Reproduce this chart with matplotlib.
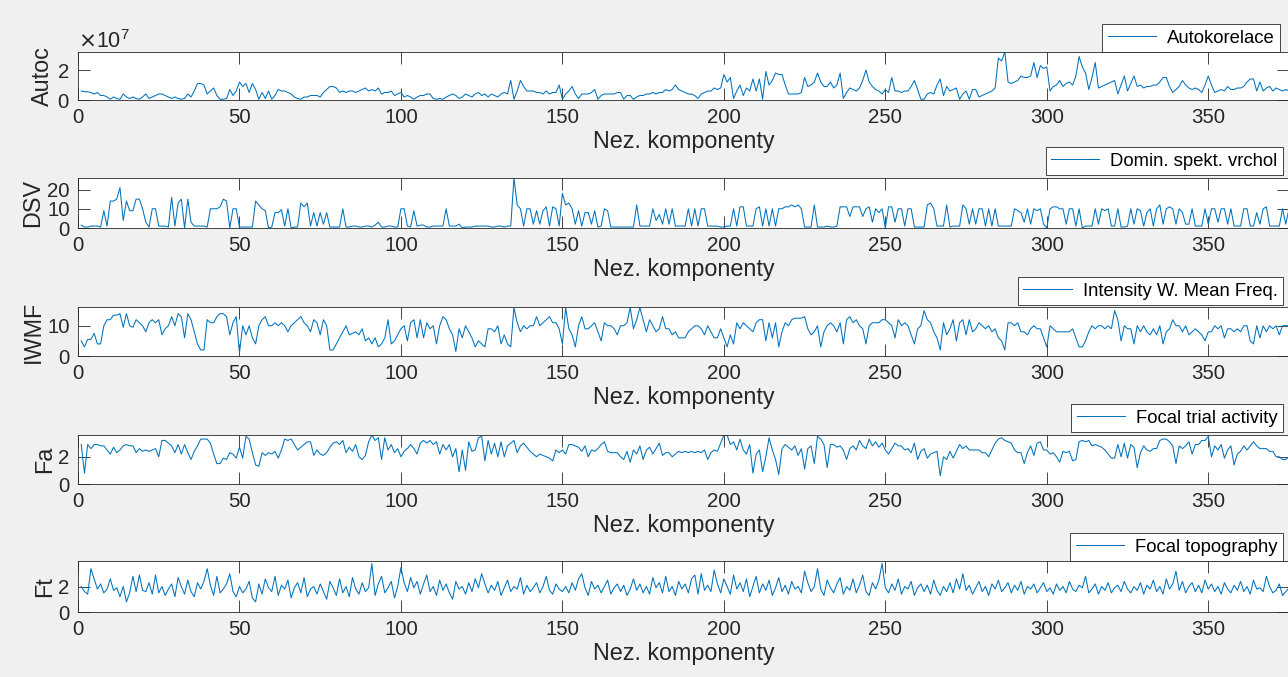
import numpy as np
import matplotlib
matplotlib.use("Agg")
import matplotlib.pyplot as plt
from matplotlib.ticker import ScalarFormatter

plt.rcParams['font.family'] = ['Liberation Sans', 'DejaVu Sans']

# autokorelace, in units of 1e7
autoc_1e7 = [
    0.6, 0.55, 0.55, 0.5, 0.4, 0.5, 0.3, 0.3, 0.2, 0.05, 0.2, 0.1, 0.05, 0.4, 0.2, 0.1, 0.2, 0.1, 0.05, 0.2, 0.4, 0.1, 0.2, 0.3, 0.4,
    0.4, 0.3, 0.2, 0.1, 0.2, 0.1, 0.05, 0.1, 0.4, 0.2, 0.6, 1.1, 1.1, 1.0, 0.4, 0.6, 0.8, 0.3, 0.05, 0.05, 0.1, 0.7, 0.3, 0.6, 1.2,
    0.9, 1.1, 0.5, 1.1, 0.7, 0.05, 0.5, 0.1, 0.6, 0.05, 0.3, 0.7, 0.6, 0.6, 0.5, 0.4, 0.2, 0.1, 0.05, 0.2, 0.2, 0.3, 0.3, 0.3, 0.2,
    0.5, 0.7, 0.9, 0.9, 0.8, 0.5, 0.6, 0.5, 0.6, 0.6, 0.5, 0.6, 0.7, 0.8, 0.6, 0.7, 0.6, 0.8, 0.4, 0.5, 0.5, 0.6, 0.3, 0.4, 0.5,
    0.2, 0.3, 0.2, 0.05, 0.2, 0.3, 0.3, 0.4, 0.4, 0.1, 0.05, 0.1, 0.05, 0.2, 0.3, 0.4, 0.3, 0.1, 0.2, 0.4, 0.3, 0.2, 0.4, 0.5, 0.3,
    0.4, 0.2, 0.4, 0.3, 0.2, 0.4, 0.5, 0.4, 1.3, 0.05, 0.6, 1.3, 0.9, 0.6, 0.6, 0.6, 0.5, 0.5, 0.4, 0.6, 0.4, 0.5, 0.5, 1.0, 0.05,
    0.4, 0.6, 0.9, 0.4, 0.1, 0.4, 0.4, 0.4, 0.5, 0.7, 0.05, 0.3, 0.4, 0.4, 0.4, 0.4, 0.5, 0.5, 0.05, 0.3, 0.3, 0.05, 0.2, 0.3, 0.3,
    0.4, 0.4, 0.5, 0.4, 0.5, 0.5, 0.7, 0.6, 0.7, 1.0, 0.7, 0.6, 0.5, 0.4, 0.4, 0.3, 0.1, 0.4, 0.5, 0.6, 0.6, 0.8, 0.7, 0.8, 1.7,
    1.2, 1.5, 0.1, 0.6, 1.0, 0.3, 0.8, 0.6, 1.4, 0.6, 1.4, 0.05, 1.9, 1.0, 1.3, 1.8, 1.7, 1.7, 1.0, 0.4, 0.4, 0.4, 0.4, 0.5, 1.5,
    0.9, 1.0, 1.2, 1.8, 1.2, 0.9, 0.9, 1.2, 0.8, 1.0, 1.8, 0.1, 0.5, 0.8, 0.7, 0.6, 0.8, 1.3, 2.0, 1.2, 0.9, 0.7, 0.6, 0.4, 0.7,
    0.5, 1.5, 0.6, 0.6, 0.5, 0.6, 0.6, 0.9, 1.3, 0.7, 0.05, 0.05, 0.4, 0.5, 0.4, 1.0, 1.4, 0.3, 0.9, 0.6, 0.7, 0.8, 0.05, 0.4, 0.6,
    0.05, 0.7, 0.7, 0.2, 0.3, 0.4, 0.5, 0.6, 0.8, 2.8, 2.6, 3.2, 1.2, 1.1, 1.2, 1.3, 1.6, 1.5, 1.5, 1.6, 2.5, 1.5, 2.3, 2.1, 2.2,
    0.6, 0.9, 1.0, 1.3, 0.9, 1.1, 1.2, 1.0, 1.6, 2.9, 2.2, 1.8, 0.7, 1.5, 2.5, 0.8, 0.9, 1.0, 1.1, 1.2, 1.3, 0.4, 1.0, 1.6, 0.6,
    1.1, 1.6, 0.9, 1.0, 0.8, 0.9, 0.9, 1.0, 1.0, 1.2, 1.5, 1.5, 0.9, 0.5, 0.7, 0.9, 1.3, 1.0, 0.8, 0.7, 0.8, 0.7, 0.5, 1.0, 1.6,
    1.0, 0.5, 0.6, 0.7, 0.6, 0.9, 0.7, 0.7, 0.8, 0.8, 0.9, 1.2, 1.4, 1.4, 0.6, 1.2, 0.6, 0.8, 0.9, 0.6, 0.8, 0.7, 0.6, 0.7, 0.6,
]

dsv = [
    1.5, 0.5, 0.5, 1, 1, 1, 0.5, 9, 1, 14, 14, 15, 21, 4, 14, 9, 9, 15, 15, 10, 3, 0.5, 10, 10, 1,
    1, 1, 0.5, 16, 1, 13, 15, 0, 15, 3, 1, 1, 1, 1, 0.5, 10, 10, 10, 11, 15, 14, 0, 10, 10, 0.5,
    0.5, 0.5, 0.5, 0.5, 14, 12, 10, 9, 0, 0.5, 8, 8, 9.5, 1, 10, 0, 0.5, 0.5, 13, 11, 13, 1, 8, 1, 8,
    2, 8, 0.5, 0.5, 0.5, 0.5, 10, 0.5, 0.5, 1, 1, 0.5, 0.5, 1, 1, 0.5, 1.5, 3, 0.5, 0.5, 1, 1, 0.5, 0.5, 10,
    10, 1, 0.5, 9, 1, 1.5, 1.5, 0.5, 0.5, 1, 1, 1, 1, 10, 1, 1, 1, 2, 0, 0.5, 0.5, 0.5, 1, 1, 1,
    1, 1, 0.5, 0.5, 1, 1, 0.5, 1, 1, 26, 12, 10, 1, 10, 10, 2, 9, 2, 9, 11, 1, 11, 10, 1, 18,
    12, 13, 10, 2, 9, 1, 8, 8, 2, 9, 0.5, 1, 10, 9, 0.5, 0.5, 0.5, 0.5, 0.5, 0.5, 0.5, 0.5, 12, 1, 1,
    1, 1, 10, 4, 7, 2, 10, 2, 10, 1, 1, 1, 1, 10, 1, 10, 1, 10, 10, 1, 1, 1, 1, 0.5, 0.5,
    1, 1, 10, 1, 11, 11, 1, 1, 1, 10, 11, 1, 10, 1, 10, 1, 10, 10, 11, 11, 12, 11, 12, 10, 0.5,
    0.5, 0.5, 12, 0.5, 0.5, 0.5, 1, 0.5, 0.5, 1, 11, 11, 11, 6, 11, 11, 11, 6, 10, 11, 3, 10, 8, 10, 0,
    11, 11, 3, 10, 10, 1, 10, 10, 0.5, 0.5, 0.5, 0.5, 12, 13, 10, 1, 1, 1, 12, 0.5, 1, 1, 1, 12, 10,
    2, 10, 2, 10, 10, 1, 10, 1, 10, 1, 1, 1, 1, 1, 10, 9, 8, 3, 10, 2, 10, 9, 10, 2, 0,
    10, 11, 11, 10, 10, 2, 10, 10, 1, 10, 0, 1, 1, 1, 10, 2, 10, 9, 10, 1, 1, 10, 0.5, 0.5, 1,
    10, 2, 10, 9, 1, 8, 10, 1, 10, 12, 2, 10, 11, 10, 2, 10, 8, 2, 2, 10, 1, 1, 1, 10, 2,
    10, 10, 3, 10, 10, 2, 10, 1, 1, 1, 10, 10, 1, 1, 8, 2, 10, 11, 1, 1, 1, 1, 10, 2, 10,
]

iwmf = [
    5, 3, 5.5, 5.5, 7.5, 4, 4, 10, 12, 12, 13.5, 13.5, 14, 9.5, 14, 10, 9.5, 12, 11, 10, 8, 11, 12, 11, 12,
    7, 9, 10, 13, 10, 14, 13, 6, 14, 12, 8, 4, 2, 2, 12, 11, 11, 13, 14, 14, 13, 7, 11, 13, 1,
    10, 7, 10, 6, 4, 10, 12, 13, 10, 10, 11, 10, 11, 10, 8, 10, 11, 12, 13, 11, 10, 8, 12, 11, 7,
    12, 10, 2, 2, 4, 6, 8, 10, 7, 7.5, 8, 7, 9, 5, 6, 4, 6, 3, 4, 6, 12, 4, 5, 7, 9,
    10, 5, 11, 12, 6, 12, 6, 11, 9, 10, 4, 10, 13, 12, 9, 7, 1.5, 9, 6, 10, 8, 6, 3, 5, 4,
    3, 9, 9, 8, 10, 4, 7, 4, 3, 16, 11, 8, 10, 9, 10, 10, 13, 10, 11, 12, 13, 11, 11, 9, 4,
    16, 9, 7, 3, 10, 13, 9, 9, 10, 11, 8, 5, 11, 10, 10, 9, 7, 10, 10, 11, 16, 9, 12, 16, 12,
    8, 12, 10, 8, 9, 13, 9, 9, 7, 8, 6, 6, 6, 8, 9, 10, 10, 9, 7, 10, 8, 6, 6, 9, 6,
    3, 7, 4, 11, 9, 11, 10, 9, 8, 11, 12, 12, 5, 11, 6, 11, 3, 8, 11, 10, 12, 12.5, 12.5, 12.5, 13,
    9, 7, 8, 10, 3, 8, 10, 11, 10, 8, 11, 4, 12, 13, 11, 12, 10, 9, 4, 10, 11, 11, 11, 12, 12,
    11, 10, 6, 12, 10, 11, 10, 7, 4, 9, 10, 15, 12, 11, 8, 6, 2, 11, 7, 9, 12, 5, 11, 12, 7,
    12, 8, 9, 11, 10, 9, 10, 8, 9, 6, 5, 2, 11, 11, 10, 11, 8, 8, 7, 9, 10, 9, 9, 6, 3,
    10, 9, 8, 8, 8, 8, 8, 9, 6, 3, 3, 5, 8, 10, 9, 10, 10, 9, 10, 9, 15, 12, 5, 10, 9,
    9, 4, 10, 8, 10, 8, 7, 9, 7, 10, 4, 8, 9, 12, 10, 10, 8, 10, 7, 8, 9, 8, 7, 5, 8,
    8, 10, 9, 10, 6, 9, 9, 8, 9, 8, 10, 10, 5, 4, 10, 6, 10, 8, 10, 9, 10, 7, 10, 10, 10,
]

fa = [
    2.9, 0.8, 2.9, 2.6, 2.9, 2.9, 2.8, 2.8, 2.5, 2.2, 2.7, 2.3, 2.5, 2.8, 2.9, 2.8, 2.8, 2.3, 2.6, 2.4, 2.5, 2.4, 2.5, 2.6, 2.0,
    3.2, 3.2, 3.0, 2.8, 2.3, 2.9, 2.2, 2.9, 2.3, 1.8, 2.4, 2.8, 3.3, 3.3, 3.3, 3.0, 2.2, 1.5, 1.5, 1.9, 1.8, 2.3, 2.2, 1.9, 2.7,
    1.9, 3.5, 3.3, 2.3, 1.4, 1.3, 2.3, 2.1, 2.3, 2.2, 2.4, 1.9, 2.5, 3.3, 3.2, 3.3, 2.9, 2.5, 2.7, 2.9, 3.1, 3.1, 2.1, 2.5, 2.2,
    2.1, 2.3, 2.7, 3.0, 3.1, 2.9, 3.2, 2.3, 2.7, 2.4, 2.9, 2.0, 1.8, 2.1, 3.1, 3.6, 3.2, 3.4, 1.8, 3.4, 2.5, 2.9, 2.3, 2.6, 2.0,
    2.4, 2.6, 2.9, 2.6, 2.2, 3.0, 3.2, 3.0, 3.2, 2.9, 3.1, 2.2, 2.9, 2.5, 2.9, 2.0, 2.6, 0.9, 2.5, 1.0, 3.1, 2.4, 2.5, 3.4, 3.5,
    1.7, 3.2, 2.2, 3.0, 2.0, 3.1, 2.0, 2.8, 3.0, 3.2, 2.3, 2.8, 3.0, 2.7, 2.4, 2.2, 2.0, 2.2, 2.1, 2.0, 1.9, 1.7, 2.5, 2.3, 2.5,
    2.2, 2.9, 2.9, 2.8, 2.7, 2.4, 2.8, 2.0, 2.5, 2.4, 2.6, 2.9, 3.1, 2.4, 2.3, 2.3, 2.3, 2.0, 1.8, 2.4, 1.6, 2.5, 2.2, 2.8, 1.8,
    2.5, 2.7, 2.2, 2.6, 3.0, 2.1, 2.3, 2.3, 2.0, 2.2, 2.4, 2.3, 2.4, 2.3, 2.4, 2.3, 2.4, 2.3, 2.5, 1.8, 2.3, 2.5, 2.4, 3.0, 3.6,
    3.6, 2.9, 3.1, 2.5, 3.3, 2.5, 2.2, 2.9, 0.8, 2.2, 2.5, 0.9, 2.0, 3.4, 2.5, 1.8, 0.7, 2.6, 2.9, 2.7, 2.5, 2.8, 2.1, 2.6, 1.1,
    2.6, 2.8, 1.5, 3.5, 3.3, 2.9, 1.2, 2.9, 2.9, 2.7, 2.8, 2.5, 1.8, 2.6, 2.8, 2.5, 3.2, 2.8, 2.6, 3.3, 2.8, 3.1, 2.7, 3.0, 2.5,
    2.2, 2.6, 3.0, 2.8, 2.8, 2.5, 2.6, 2.3, 3.0, 1.8, 2.4, 2.6, 1.9, 2.2, 2.3, 2.4, 0.6, 2.0, 1.8, 2.4, 1.9, 2.4, 2.9, 2.6, 2.8,
    2.5, 2.5, 2.5, 2.5, 2.3, 2.3, 2.0, 2.5, 3.0, 3.3, 3.4, 3.2, 3.1, 3.0, 2.5, 2.3, 2.3, 1.5, 2.3, 2.8, 2.1, 3.0, 3.1, 2.5, 2.5,
    2.2, 2.3, 2.0, 1.6, 2.4, 2.3, 2.4, 1.7, 1.8, 3.1, 3.2, 3.1, 3.2, 2.8, 2.9, 2.8, 2.7, 2.5, 2.2, 1.9, 1.9, 2.9, 2.0, 3.0, 1.9,
    2.9, 2.7, 1.2, 2.3, 2.8, 2.5, 2.4, 2.6, 2.6, 3.2, 3.3, 3.3, 3.1, 2.8, 1.5, 2.8, 2.6, 2.8, 3.1, 2.2, 2.9, 2.9, 3.2, 3.2, 3.5,
    2.0, 2.8, 2.5, 2.9, 1.9, 2.5, 2.8, 1.4, 2.2, 2.4, 2.8, 2.5, 2.8, 3.1, 2.8, 2.6, 2.6, 2.6, 2.4, 2.4, 2.0, 2.0, 1.8, 1.8, 2.0,
]

ft = [
    2.0, 1.6, 1.4, 3.4, 2.6, 1.8, 2.2, 1.5, 1.8, 2.6, 1.7, 1.9, 1.2, 2.0, 0.8, 1.5, 2.8, 1.6, 2.9, 1.7, 1.6, 2.3, 1.4, 2.9, 1.5,
    2.0, 1.3, 1.8, 2.2, 1.2, 2.7, 2.0, 1.4, 2.5, 1.6, 1.2, 2.3, 1.8, 2.4, 3.4, 2.1, 1.3, 2.8, 1.5, 1.8, 2.2, 3.0, 1.6, 1.2, 2.0,
    1.5, 1.8, 2.4, 1.1, 0.8, 2.2, 1.4, 2.6, 1.9, 1.6, 2.8, 1.3, 2.1, 1.8, 2.5, 1.1, 1.9, 2.3, 1.5, 2.7, 1.2, 1.8, 2.0, 1.4, 2.2,
    1.6, 1.0, 2.4, 1.9, 1.3, 2.6, 1.5, 2.0, 1.2, 2.7, 1.8, 1.4, 2.3, 1.6, 1.9, 3.8, 1.3, 2.2, 2.8, 1.5, 1.9, 2.4, 1.1, 2.0, 3.5,
    2.3, 1.6, 2.7, 1.9, 2.4, 1.4, 2.2, 2.9, 1.6, 2.0, 1.3, 2.5, 1.7, 2.2, 1.5, 1.0, 2.4, 1.8, 2.0, 1.4, 2.3, 1.6, 2.6, 1.9, 3.0,
    2.2, 1.5, 2.1, 1.7, 2.4, 1.3, 1.9, 2.5, 1.6, 2.0, 1.8, 2.7, 1.4, 2.1, 1.6, 1.9, 2.3, 1.5, 2.0, 2.8, 1.7, 1.4, 2.2, 1.8, 1.6,
    2.0, 1.5, 2.3, 1.7, 2.6, 3.0, 1.9, 1.3, 2.4, 1.8, 2.1, 1.5, 2.0, 2.5, 1.4, 1.9, 2.2, 1.6, 2.1, 1.3, 1.8, 2.6, 1.7, 2.2, 1.5,
    2.0, 1.4, 2.7, 1.9, 2.3, 1.5, 2.8, 1.6, 2.0, 1.3, 2.4, 1.8, 2.2, 1.5, 2.6, 2.9, 1.4, 3.0, 1.7, 2.1, 1.6, 3.3, 2.2, 1.5, 2.6,
    2.0, 1.4, 2.9, 1.8, 2.3, 1.6, 2.6, 1.2, 2.0, 2.8, 1.5, 2.2, 1.7, 2.5, 1.3, 1.9, 2.7, 1.6, 2.1, 1.4, 2.4, 1.8, 2.0, 1.5, 3.2,
    2.3, 1.6, 2.0, 3.4, 1.8, 1.3, 2.5, 1.9, 1.5, 2.2, 2.7, 1.4, 2.0, 1.7, 2.6, 1.5, 2.1, 2.9, 1.6, 1.3, 2.3, 1.8, 2.5, 3.8, 1.9,
    1.5, 2.2, 1.7, 2.6, 1.4, 2.0, 1.8, 2.4, 1.3, 1.9, 2.2, 1.6, 2.1, 1.4, 2.5, 1.7, 1.3, 2.0, 1.6, 2.3, 1.5, 2.6, 1.8, 3.0, 1.7,
    2.1, 1.4, 1.9, 2.4, 1.6, 2.0, 1.3, 2.2, 1.8, 2.5, 1.6, 1.9, 2.3, 1.5, 2.1, 1.7, 2.4, 1.4, 2.0, 1.8, 2.2, 1.5, 1.9, 2.3, 1.6,
    1.9, 1.4, 2.2, 1.7, 2.0, 1.5, 2.4, 1.8, 1.6, 2.1, 1.9, 2.8, 1.5, 1.8, 2.2, 1.4, 2.0, 1.7, 2.3, 1.5, 1.9, 2.1, 1.6, 2.4, 1.8,
    1.5, 2.0, 1.7, 2.3, 1.4, 2.1, 1.8, 2.5, 1.6, 2.0, 1.4, 2.6, 1.8, 2.2, 3.2, 1.7, 2.4, 1.5, 2.0, 2.3, 1.6, 2.1, 1.5, 2.5, 1.8,
    2.2, 1.6, 2.0, 1.4, 2.3, 1.8, 1.5, 2.1, 1.7, 2.4, 1.6, 2.0, 1.4, 2.5, 1.8, 1.9, 1.6, 2.8, 2.0, 1.5, 1.7, 2.2, 1.3, 1.6, 1.9,
]

ylabels = ['Autoc', 'DSV', 'IWMF', 'Fa', 'Ft']
legend_names = ['Autokorelace', 'Domin. spekt. vrchol', 'Intensity W. Mean Freq.',
                'Focal trial activity', 'Focal topography']
yticks = [[0, 2e7], [0, 10, 20], [0, 10], [0, 2], [0, 2]]
ytops = [3.2e7, 26, 16.2, 3.6, 4.0]
xticks = [0, 50, 100, 150, 200, 250, 300, 350]

series = [np.array(autoc_1e7) * 1e7, dsv, iwmf, fa, ft]

W, H = 1288, 677
fig = plt.figure(figsize=(W / 100, H / 100), dpi=100, facecolor='#f0f0f0')

# pixel boxes (top, bottom) of each panel, and legend anchors (right, top)
boxes = [(52, 100), (178, 228), (307, 356), (435, 484), (561, 612)]
leg_anchor = [(1280, 24), (1283, 147), (1283, 277), (1283, 404), (1283, 533)]
left, right = 78, 1289

blue = '#0072BD'
dark = '#262626'

for i, y in enumerate(series):
    top, bot = boxes[i]
    ax = fig.add_axes([left / W, 1 - bot / H, (right - left) / W, (bot - top) / H])
    x = np.arange(1, len(y) + 1)
    ax.plot(x, y, color=blue, lw=0.75, label=legend_names[i])
    ax.set_xlim(0, 375)
    ax.set_ylim(0, ytops[i])
    ax.set_xticks(xticks)
    ax.set_yticks(yticks[i])
    ax.tick_params(direction='in', length=8.5, width=0.6, colors=dark,
                   labelsize=14.7, top=True, right=True, pad=6)
    for s in ax.spines.values():
        s.set_color(dark)
        s.set_linewidth(0.6)
    ax.set_xlabel('Nez. komponenty', fontsize=16.8, color=dark, labelpad=2)
    ax.set_ylabel(ylabels[i], fontsize=16.8, color=dark, labelpad=2)
    if i == 0:
        fmt = ScalarFormatter(useMathText=True)
        fmt.set_powerlimits((0, 0))
        ax.yaxis.set_major_formatter(fmt)
        ax.yaxis.get_offset_text().set_fontsize(15.5)
        ax.yaxis.get_offset_text().set_color(dark)
    rx, ty = leg_anchor[i]
    leg = ax.legend(loc='upper right', bbox_to_anchor=(rx / W, 1 - ty / H),
                    bbox_transform=fig.transFigure, fontsize=13.3, fancybox=False,
                    framealpha=1, edgecolor=dark, handlelength=2.6,
                    borderpad=0.3, borderaxespad=0, handletextpad=0.6)
    leg.get_frame().set_linewidth(0.6)

fig.savefig('out.png', dpi=100, facecolor=fig.get_facecolor())
